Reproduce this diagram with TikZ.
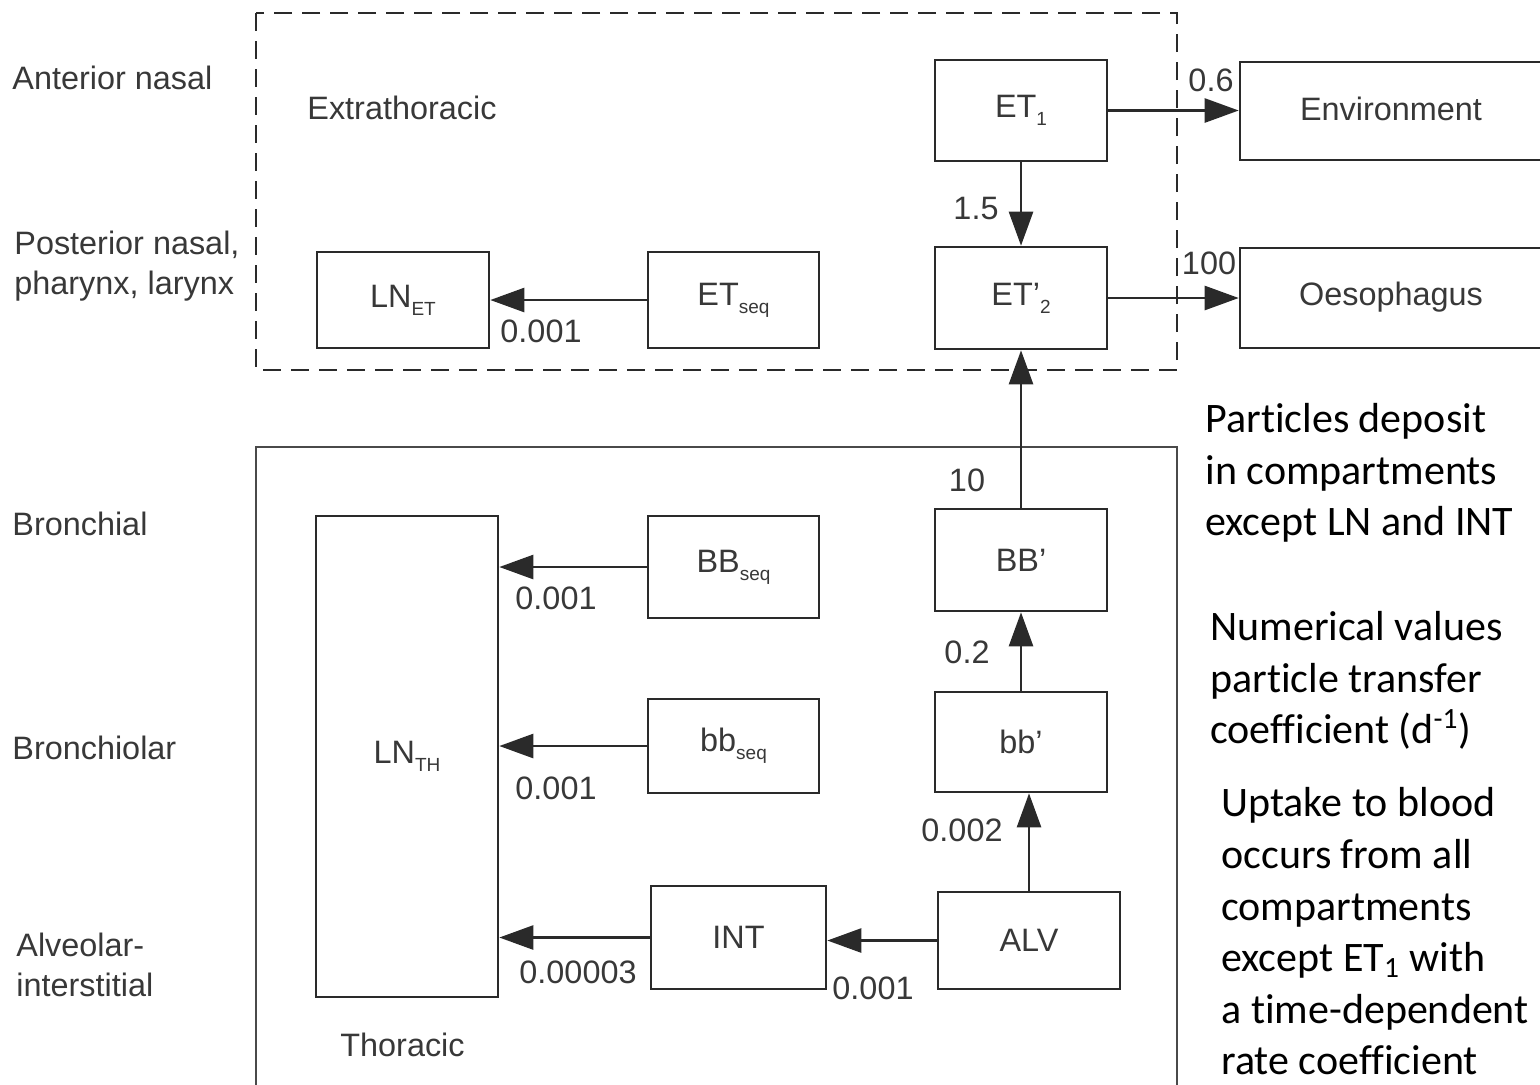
\documentclass[tikz,border=0pt]{standalone}
\usepackage{fontspec}
\setmainfont{Liberation Sans}
\newfontfamily\notefont[Ligatures=NoCommon]{Carlito}
\usetikzlibrary{arrows.meta}

\definecolor{ink}{HTML}{2A2A2A}
\definecolor{txt}{HTML}{383838}

% small lowered subscript used in compartment names
\newcommand\sbs[1]{\raisebox{-0.45ex}{\fontsize{9.5pt}{9.5pt}\selectfont #1}}
% t and i set apart (keeps the font from joining them)
\newcommand\tI{t\kern0pt i}

\begin{document}
\begin{tikzpicture}[x=0.5pt,y=-0.5pt,
  box/.style={draw=ink, line width=1.3pt, fill=white, inner sep=0pt,
              text=txt, font=\fontsize{16.2pt}{19pt}\selectfont},
  flow/.style={draw=ink, line width=1.3pt, -{Triangle[length=17pt,width=12pt]}},
  lbl/.style={text=txt, font=\fontsize{16.2pt}{20pt}\selectfont, inner sep=0pt},
  region/.style={lbl, anchor=west, align=left},
  note/.style={font=\notefont\fontsize{21pt}{25.8pt}\selectfont, text=black,
               inner sep=0pt, anchor=west, align=left}
]
\useasboundingbox (0,0) rectangle (1540,1084);

% region frames
\draw[ink, line width=1.2pt, dash pattern=on 9pt off 5pt] (256,13) rectangle (1177,370);
\draw[ink!85, line width=1.2pt] (256,1095) -- (256,447) -- (1177,447) -- (1177,1095);

% region names
\node[region] (ant) at (12,78) {Anterior nasal};
\node[region] (post) at (14,266) {Posterior nasal,\\pharynx, larynx};
\node[region] (bron) at (12,524) {Bronchial};
\node[region] (bronl) at (12,748) {Bronchiolar};
\node[region] (alvi) at (16,965) {Alveolar-\\interstitial};
\node[region] (extra) at (307,108) {Extrathoracic};
\node[region] (thor) at (340,1045) {Thoracic};

% compartments
\node[box, minimum width=86pt, minimum height=50.5pt] (et1) at (1021,110.5) {ET\sbs{1}};
\node[box, minimum width=86pt, minimum height=51pt] (et2) at (1021,298) {ET'\sbs{2}};
\node[box, minimum width=160pt, minimum height=49pt] (env) at (1400,111) {};
\node[lbl] (envt) at (1391,109) {Environment};
\node[box, minimum width=160pt, minimum height=50pt] (oes) at (1400,298) {};
\node[lbl] (oest) at (1391,297) {Oesophagus};
\node[box, minimum width=86pt, minimum height=48pt] (lnet) at (403,300) {LN\sbs{ET}};
\node[box, minimum width=85.5pt, minimum height=48pt] (etseq) at (733.5,300) {ET\sbs{seq}};

\node[box, minimum width=91pt, minimum height=240.5pt] (lnth) at (407,756.5) {LN\sbs{TH}};
\node[box, minimum width=85.5pt, minimum height=51pt] (bbseq) at (733.5,567) {BB\sbs{seq}};
\node[box, minimum width=85.5pt, minimum height=47pt] (bbsq) at (733.5,746) {bb\sbs{seq}};
\node[box, minimum width=87.5pt, minimum height=51.5pt] (int) at (738.5,937.5) {INT};
\node[box, minimum width=86pt, minimum height=51pt] (bbu) at (1021,560) {BB'};
\node[box, minimum width=86pt, minimum height=50pt] (bbl) at (1021,742) {bb'};
\node[box, minimum width=91pt, minimum height=48.5pt] (alv) at (1029,940.5) {ALV};

% transfers
\draw[flow] (et1.east) -- (et1.east -| env.west);
\draw[flow] (et1.south) -- (et2.north);
\draw[flow] (et2.east) -- (et2.east -| oes.west);
\draw[flow] (etseq.west) -- (etseq.west -| lnet.east);
\draw[flow] (bbu.north) -- (et2.south);
\draw[flow] (bbl.north) -- (bbu.south);
\draw[flow] (alv.north) -- (alv.north |- bbl.south);
\draw[flow] (alv.west) -- (alv.west -| int.east);
\draw[flow] (int.west) -- (int.west -| lnth.east);
\draw[flow] (bbseq.west) -- (bbseq.west -| lnth.east);
\draw[flow] (bbsq.west) -- (bbsq.west -| lnth.east);

% transfer coefficients
\node[lbl] (k1) at (1211,80) {0.6};
\node[lbl] (k2) at (976,208) {1.5};
\node[lbl] (k3) at (1209,263) {100};
\node[lbl] (k4) at (541,331) {0.001};
\node[lbl] (k5) at (967,480) {10};
\node[lbl] (k6) at (967,652) {0.2};
\node[lbl] (k7) at (962,830) {0.002};
\node[lbl] (k8) at (556,598) {0.001};
\node[lbl] (k9) at (556,788) {0.001};
\node[lbl] (k10) at (578,972) {0.00003};
\node[lbl] (k11) at (873,988) {0.001};

% notes
\node[note] (n1) at (1205,473) {Par\tI cles deposit\\in compartments\\except LN and INT};
\node[note] (n2) at (1210,680.5) {Numerical values\\par\tI cle transfer\\coefficient (d\textsuperscript{-1})};
\node[note] (n3) at (1221,931.5) {Uptake to blood\\occurs from all\\compartments\\except ET\textsubscript{1} with\\a \tI me-dependent\\rate coefficient};
\end{tikzpicture}
\end{document}
